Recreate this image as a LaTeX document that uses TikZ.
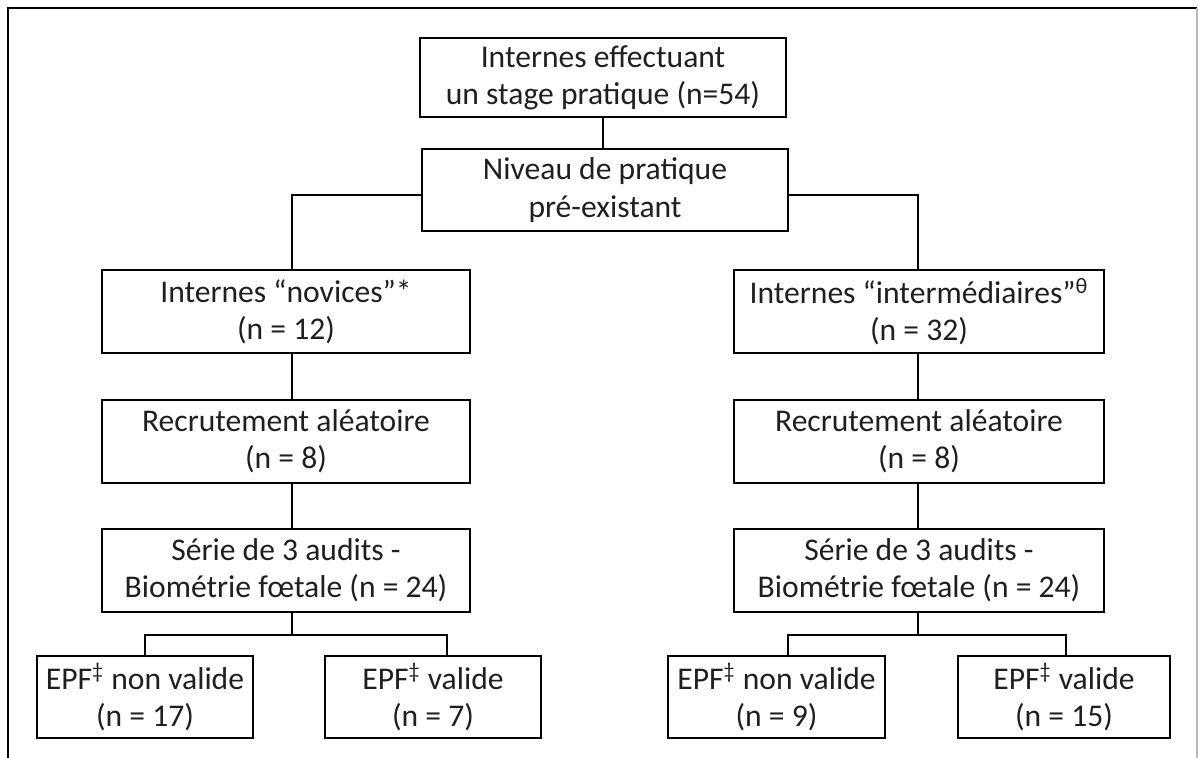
\documentclass[tikz,border=0pt]{standalone}
\usepackage{fontspec}
\setmainfont{Carlito}
\begin{document}
\begin{tikzpicture}[x=0.5pt,y=-0.5pt,
  box/.style={draw, line width=1.1pt, align=center, inner sep=0pt,
    text=black!88, font=\fontsize{15.8}{18.6}\selectfont},
  link/.style={line width=1.1pt}]
\useasboundingbox (0,0) rectangle (1198,758);
% outer frame
\draw[line width=1.1pt] (8,758) -- (8,8) -- (1197,8);
\draw[gray!55, line width=0.6pt] (1197,8) -- (1197,758);
% nodes
\node[box, minimum width=183pt, minimum height=39.5pt] (A) at (603,77.5) {Internes effectuant\\un stage pratique (n=54)};
\node[box, minimum width=183pt, minimum height=41pt] (B) at (605,190) {Niveau de pratique\\pré-existant};
\node[box, minimum width=184pt, minimum height=41.5pt] (C1) at (286,311.5) {Internes “novices”*\\(n = 12)};
\node[box, minimum width=185pt, minimum height=41.5pt] (C2) at (919,311.5) {Internes “intermédiaires”\textsuperscript{θ}\\(n = 32)};
\node[box, minimum width=184pt, minimum height=41.5pt] (R1) at (286,441.5) {Recrutement aléatoire\\(n = 8)};
\node[box, minimum width=185pt, minimum height=41.5pt] (R2) at (919,441.5) {Recrutement aléatoire\\(n = 8)};
\node[box, minimum width=184pt, minimum height=41.5pt] (S1) at (286,570.5) {Série de 3 audits -\\Biométrie fœtale (n = 24)};
\node[box, minimum width=185pt, minimum height=41.5pt] (S2) at (919,570.5) {Série de 3 audits -\\Biométrie fœtale (n = 24)};
\node[box, minimum width=108pt, minimum height=41pt] (E11) at (145,697) {EPF\textsuperscript{‡} non valide\\(n = 17)};
\node[box, minimum width=108pt, minimum height=41pt] (E12) at (433,697) {EPF\textsuperscript{‡} valide\\(n = 7)};
\node[box, minimum width=108.5pt, minimum height=41pt] (E21) at (776.5,697) {EPF\textsuperscript{‡} non valide\\(n = 9)};
\node[box, minimum width=106pt, minimum height=41pt] (E22) at (1064,697) {EPF\textsuperscript{‡} valide\\(n = 15)};
% junction coordinates
\coordinate (jl) at (292,195);
\coordinate (jr) at (918,195);
\coordinate (bl) at (292,635);
\coordinate (bla) at (145,635);
\coordinate (blb) at (447,635);
\coordinate (br) at (918,635);
\coordinate (bra) at (788,635);
\coordinate (brb) at (1066,635);
% connectors
\draw[link] (A.south) -- (A.south |- B.north);
\draw[link] (B.west |- jl) -| (C1.north -| jl);
\draw[link] (B.east |- jr) -| (C2.north -| jr);
\draw[link] (C1.south -| jl) -- (R1.north -| jl);
\draw[link] (R1.south -| jl) -- (S1.north -| jl);
\draw[link] (C2.south -| jr) -- (R2.north -| jr);
\draw[link] (R2.south -| jr) -- (S2.north -| jr);
\draw[link] (S1.south -| bl) -- (bl);
\draw[link] (E11.north -| bla) -- (bla) -- (blb) -- (E12.north -| blb);
\draw[link] (S2.south -| br) -- (br);
\draw[link] (E21.north -| bra) -- (bra) -- (brb) -- (E22.north -| brb);
\end{tikzpicture}
\end{document}
